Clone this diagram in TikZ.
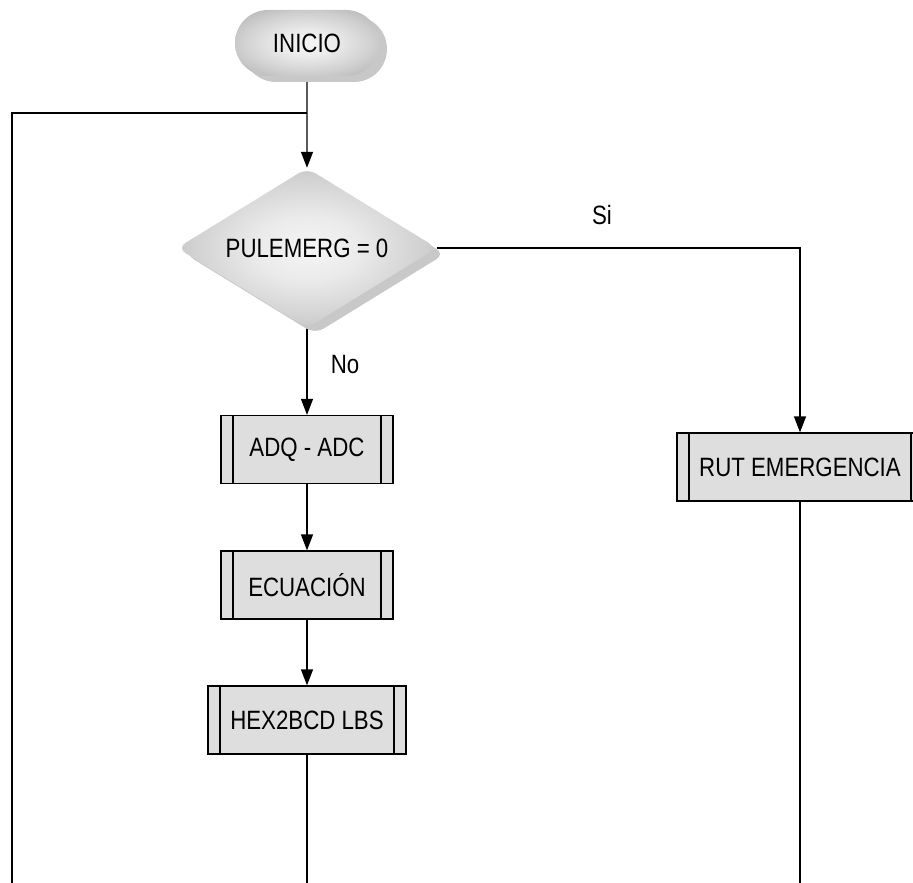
\documentclass[tikz,border=0pt]{standalone}
\usepackage{fontspec}
\setmainfont{Liberation Sans}[FakeStretch=0.84]
\usetikzlibrary{shapes.geometric,shapes.misc,shadows,arrows.meta,backgrounds}
\definecolor{boxfill}{HTML}{DEDEDE}
\definecolor{shadowgray}{HTML}{C8C8C8}
% soft highlight in the middle of the shaded symbols, darker towards the rim
\pgfdeclareradialshading{glow}{\pgfpoint{0bp}{0bp}}{%
  color(0bp)=(white!96!black);
  color(10bp)=(white!92!black);
  color(22bp)=(white!82!black);
  color(32bp)=(white!72!black);
  color(42bp)=(white!63!black);
  color(50bp)=(white!58!black)}
\begin{document}
\begin{tikzpicture}[x=1pt,y=-1pt,
  every node/.style={font=\fontsize{26.5}{30}\selectfont},
  flow/.style={line width=1.3pt},
  arrowflow/.style={flow,-{Triangle[length=16pt,width=12pt]}},
  shaded3d/.style={shading=glow,
    drop shadow={shadow xshift=8pt, shadow yshift=-6pt, fill=shadowgray, opacity=1}},
  terminal/.style={shaded3d, rounded rectangle, minimum width=144pt,
    minimum height=66pt, inner sep=0pt},
  decision/.style={shaded3d, diamond, aspect=1.6, minimum width=260pt,
    minimum height=160pt, inner sep=0pt, rounded corners=10pt},
  subproc/.style={draw, line width=1.3pt, fill=boxfill, minimum height=68pt,
    inner sep=0pt,
    path picture={\draw[line width=1.3pt]
      ([xshift=12pt]path picture bounding box.north west) --
      ([xshift=12pt]path picture bounding box.south west)
      ([xshift=-12pt]path picture bounding box.north east) --
      ([xshift=-12pt]path picture bounding box.south east);}},
  lbl/.style={inner sep=0pt}
]
\useasboundingbox (0,0) rectangle (913,883);

% flowchart blocks
\node[terminal] (ini) at (307,43) {INICIO};
\node[decision] (dec) at (307,248) {PULEMERG = 0};
\node[subproc, minimum width=172pt] (adq) at (307,449.5) {ADQ - ADC};
\node[subproc, minimum width=172pt] (ecu) at (307,585) {ECUACIÓN};
\node[subproc, minimum width=198pt] (hex) at (307,720) {HEX2BCD LBS};
\node[subproc, minimum width=246pt] (rut) at (800,467) {RUT EMERGENCIA};

% branch labels
\node[lbl] (si) at (602,215) {Si};
\node[lbl] (no) at (345,365) {No};

% free ends of the lines leaving the page
\coordinate (join) at (307,113);
\coordinate (loopend) at (12,890);
\coordinate (hexend) at (307,890);
\coordinate (rutend) at (800,890);

\begin{scope}[on background layer]
  \draw[arrowflow] (ini) -- (dec);
  \draw[flow] (loopend) |- (join);
  \draw[arrowflow] (dec) -- (adq);
  \draw[arrowflow] (dec.east) -| (rut.north);
  \draw[arrowflow] (adq) -- (ecu);
  \draw[arrowflow] (ecu) -- (hex);
  \draw[flow] (hex) -- (hexend);
  \draw[flow] (rut) -- (rutend);
\end{scope}
\end{tikzpicture}
\end{document}
